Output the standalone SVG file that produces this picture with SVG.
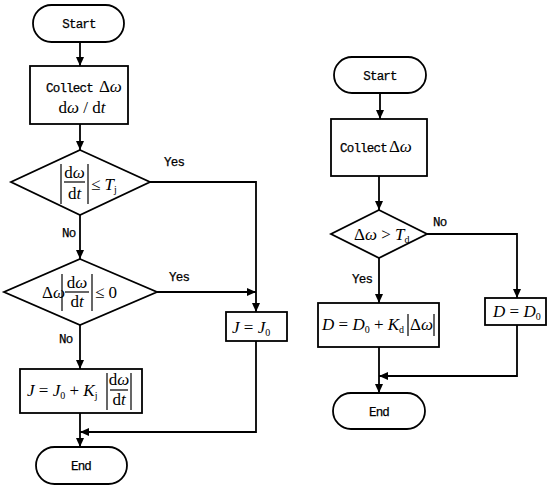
<svg xmlns="http://www.w3.org/2000/svg" width="550" height="488" viewBox="0 0 550 488">
<style>
.shape{fill:#fff;stroke:#000;stroke-width:1.8}
.conn{fill:none;stroke:#000;stroke-width:1.8}
.bar{stroke:#000;stroke-width:1.2}
.mono{font-family:"Liberation Mono","DejaVu Sans Mono",monospace;font-size:12.5px;letter-spacing:-0.8px;fill:#000;stroke:#000;stroke-width:0.25}
.lbl{font-family:"Liberation Mono","DejaVu Sans Mono",monospace;font-size:12.5px;letter-spacing:-0.8px;fill:#000;stroke:#000;stroke-width:0.25}
.m{font-family:"Liberation Serif","Times New Roman",serif;font-size:17px;fill:#000}
.i{font-style:italic}
.sub{font-size:10px}
</style>
<defs>
<marker id="ah" markerUnits="userSpaceOnUse" markerWidth="10" markerHeight="10" refX="9" refY="5" orient="auto">
<path d="M0,1 L9,5 L0,9 z" fill="#000"/>
</marker>
</defs>
<rect width="550" height="488" fill="#fff"/>
<g id="connectors">
<path class="conn" d="M80,42 V66" marker-end="url(#ah)"/>
<path class="conn" d="M80,124 V150" marker-end="url(#ah)"/>
<path class="conn" d="M80,215 V259" marker-end="url(#ah)"/>
<path class="conn" d="M150,182 H256 V312" marker-end="url(#ah)"/>
<path class="conn" d="M157,292 H256" marker-end="url(#ah)"/>
<path class="conn" d="M80,325 V369" marker-end="url(#ah)"/>
<path class="conn" d="M80,413 V447" marker-end="url(#ah)"/>
<path class="conn" d="M256,341 V432 H80" marker-end="url(#ah)"/>
<path class="conn" d="M380,93 V119" marker-end="url(#ah)"/>
<path class="conn" d="M379,176 V210" marker-end="url(#ah)"/>
<path class="conn" d="M427,234 H517 V298" marker-end="url(#ah)"/>
<path class="conn" d="M379,258 V303" marker-end="url(#ah)"/>
<path class="conn" d="M379,347 V393" marker-end="url(#ah)"/>
<path class="conn" d="M517,325 V376 H379" marker-end="url(#ah)"/>
<text class="lbl" x="164" y="166">Yes</text>
<text class="lbl" x="62" y="237">No</text>
<text class="lbl" x="169" y="281">Yes</text>
<text class="lbl" x="59" y="343">No</text>
<text class="lbl" x="433" y="226">No</text>
<text class="lbl" x="352" y="283">Yes</text>
</g>
<g id="start1">
<rect class="shape" x="33" y="5" width="91" height="37" rx="18.5"/>
<text class="mono" x="79" y="28" text-anchor="middle">Start</text>
</g>
<g id="collect1">
<rect class="shape" x="30" y="66" width="98" height="58"/>
<text x="46" y="92"><tspan class="mono">Collect</tspan><tspan class="m" dx="6">Δ</tspan><tspan class="m i">ω</tspan></text>
<text class="m" x="82" y="113" text-anchor="middle">d<tspan class="i">ω</tspan> / d<tspan class="i">t</tspan></text>
</g>
<g id="decision1">
<polygon class="shape" points="80,150 150,182 80,215 11,182"/>
<line class="bar" x1="61" y1="164" x2="61" y2="204"/>
<line class="bar" x1="88" y1="164" x2="88" y2="204"/>
<line class="bar" x1="64" y1="182" x2="85" y2="182"/>
<text class="m" x="74.5" y="178" text-anchor="middle">d<tspan class="i">ω</tspan></text>
<text class="m" x="74.5" y="199" text-anchor="middle">d<tspan class="i">t</tspan></text>
<text class="m" x="91" y="190">≤ <tspan class="i">T</tspan><tspan class="sub" dy="3">j</tspan></text>
</g>
<g id="decision2">
<polygon class="shape" points="80,259 157,292 80,325 4,292"/>
<text class="m" x="42" y="298">Δ<tspan class="i">ω</tspan></text>
<line class="bar" x1="62" y1="274" x2="62" y2="311"/>
<line class="bar" x1="92" y1="274" x2="92" y2="311"/>
<line class="bar" x1="65" y1="292" x2="89" y2="292"/>
<text class="m" x="77" y="288" text-anchor="middle">d<tspan class="i">ω</tspan></text>
<text class="m" x="77" y="307" text-anchor="middle">d<tspan class="i">t</tspan></text>
<text class="m" x="95" y="298">≤ 0</text>
</g>
<g id="formulaJ">
<rect class="shape" x="20" y="369" width="122" height="44"/>
<text class="m" x="27" y="396"><tspan class="i">J</tspan> = <tspan class="i">J</tspan><tspan class="sub" dy="3">0</tspan><tspan dy="-3"> + </tspan><tspan class="i">K</tspan><tspan class="sub" dy="3">j</tspan></text>
<line class="bar" x1="107" y1="373" x2="107" y2="410"/>
<line class="bar" x1="131" y1="373" x2="131" y2="410"/>
<line class="bar" x1="110" y1="390" x2="128" y2="390"/>
<text class="m" x="119" y="385" text-anchor="middle">d<tspan class="i">ω</tspan></text>
<text class="m" x="119" y="405" text-anchor="middle">d<tspan class="i">t</tspan></text>
</g>
<g id="J0">
<rect class="shape" x="226" y="312" width="61" height="29"/>
<text class="m" x="232" y="333"><tspan class="i">J</tspan> = <tspan class="i">J</tspan><tspan class="sub" dy="3">0</tspan></text>
</g>
<g id="end1">
<rect class="shape" x="36" y="447" width="91" height="37" rx="18.5"/>
<text class="mono" x="81" y="470" text-anchor="middle">End</text>
</g>
<g id="start2">
<rect class="shape" x="334" y="57" width="92" height="36" rx="18"/>
<text class="mono" x="380" y="80" text-anchor="middle">Start</text>
</g>
<g id="collect2">
<rect class="shape" x="331" y="119" width="96" height="57"/>
<text x="340" y="152"><tspan class="mono">Collect</tspan><tspan class="m" dx="2">Δ</tspan><tspan class="m i">ω</tspan></text>
</g>
<g id="decision3">
<polygon class="shape" points="379,210 427,234 379,258 331,234"/>
<text class="m" x="354" y="240">Δ<tspan class="i">ω</tspan> &gt; <tspan class="i">T</tspan><tspan class="sub" dy="3">d</tspan></text>
</g>
<g id="formulaD">
<rect class="shape" x="318" y="303" width="121" height="44"/>
<text class="m" x="322" y="330"><tspan class="i">D</tspan> = <tspan class="i">D</tspan><tspan class="sub" dy="3">0</tspan><tspan dy="-3"> + </tspan><tspan class="i">K</tspan><tspan class="sub" dy="3">d</tspan></text>
<line class="bar" x1="408" y1="314" x2="408" y2="336"/>
<line class="bar" x1="434" y1="314" x2="434" y2="336"/>
<text class="m" x="410" y="330">Δ<tspan class="i">ω</tspan></text>
</g>
<g id="D0">
<rect class="shape" x="485" y="298" width="61" height="27"/>
<text class="m" x="493" y="317"><tspan class="i">D</tspan> = <tspan class="i">D</tspan><tspan class="sub" dy="3">0</tspan></text>
</g>
<g id="end2">
<rect class="shape" x="333" y="393" width="92" height="36" rx="18"/>
<text class="mono" x="379" y="416" text-anchor="middle">End</text>
</g>
</svg>
